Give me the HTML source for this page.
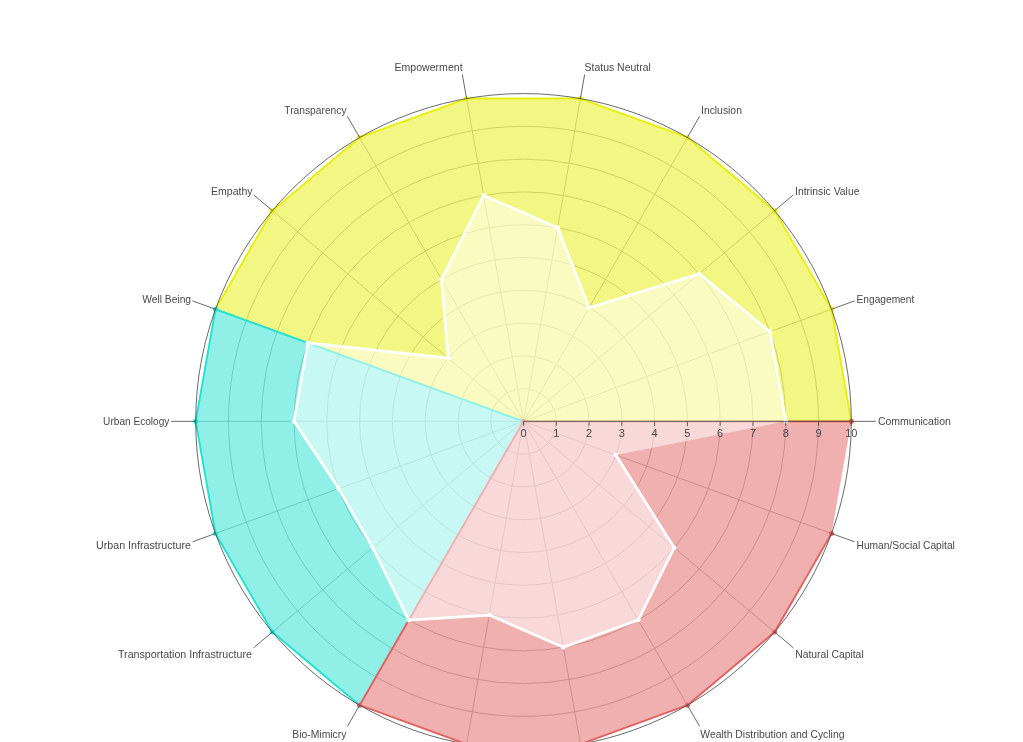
<!DOCTYPE html>
<html><head><meta charset="utf-8"><title>Radar</title>
<style>html,body{margin:0;padding:0;background:#fff;overflow:hidden}svg{display:block}text{font-family:"Liberation Sans","DejaVu Sans",sans-serif;font-size:11px;fill:#484848}</style></head><body>
<svg width="1023" height="742" viewBox="0 0 1023 742">
<rect width="1023" height="742" fill="#fff"/>
<g fill="none" stroke="#b0b0b0" stroke-width="0.9">
<circle cx="523.5" cy="421.35" r="32.78"/>
<circle cx="523.5" cy="421.35" r="65.56"/>
<circle cx="523.5" cy="421.35" r="98.34"/>
<circle cx="523.5" cy="421.35" r="131.12"/>
<circle cx="523.5" cy="421.35" r="163.9"/>
<circle cx="523.5" cy="421.35" r="196.68"/>
<circle cx="523.5" cy="421.35" r="229.46"/>
<circle cx="523.5" cy="421.35" r="262.24"/>
<circle cx="523.5" cy="421.35" r="295.02"/>
<path d="M523.5,421.35L831.53,309.24"/>
<path d="M523.5,421.35L774.61,210.64"/>
<path d="M523.5,421.35L687.4,137.47"/>
<path d="M523.5,421.35L580.42,98.53"/>
<path d="M523.5,421.35L466.58,98.53"/>
<path d="M523.5,421.35L359.6,137.47"/>
<path d="M523.5,421.35L272.39,210.64"/>
<path d="M523.5,421.35L215.47,309.24"/>
<path d="M523.5,421.35L195.7,421.35"/>
<path d="M523.5,421.35L215.47,533.46"/>
<path d="M523.5,421.35L272.39,632.06"/>
<path d="M523.5,421.35L359.6,705.23"/>
<path d="M523.5,421.35L466.58,744.17"/>
<path d="M523.5,421.35L580.42,744.17"/>
<path d="M523.5,421.35L687.4,705.23"/>
<path d="M523.5,421.35L774.61,632.06"/>
<path d="M523.5,421.35L831.53,533.46"/>
</g>
<path d="M523.5,421.35L851.3,421.35L831.53,309.24L774.61,210.64L687.4,137.47L580.42,98.53L466.58,98.53L359.6,137.47L272.39,210.64L215.47,309.24" fill="rgb(230,240,8)" fill-opacity="0.5" stroke="none"/>
<path d="M523.5,421.35L851.3,421.35L831.53,309.24L774.61,210.64L687.4,137.47L580.42,98.53L466.58,98.53L359.6,137.47L272.39,210.64L215.47,309.24" fill="none" stroke="rgb(230,240,8)" stroke-width="1.9" stroke-linejoin="round"/>
<g fill="rgb(230,240,8)">
<circle cx="523.5" cy="421.35" r="2.5"/>
<circle cx="851.3" cy="421.35" r="2.5"/>
<circle cx="831.53" cy="309.24" r="2.5"/>
<circle cx="774.61" cy="210.64" r="2.5"/>
<circle cx="687.4" cy="137.47" r="2.5"/>
<circle cx="580.42" cy="98.53" r="2.5"/>
<circle cx="466.58" cy="98.53" r="2.5"/>
<circle cx="359.6" cy="137.47" r="2.5"/>
<circle cx="272.39" cy="210.64" r="2.5"/>
<circle cx="215.47" cy="309.24" r="2.5"/>
</g>
<path d="M523.5,421.35L215.47,309.24L195.7,421.35L215.47,533.46L272.39,632.06L359.6,705.23" fill="rgb(34,226,208)" fill-opacity="0.5" stroke="none"/>
<path d="M523.5,421.35L215.47,309.24L195.7,421.35L215.47,533.46L272.39,632.06L359.6,705.23" fill="none" stroke="rgb(34,226,208)" stroke-width="1.9" stroke-linejoin="round"/>
<g fill="rgb(34,226,208)">
<circle cx="523.5" cy="421.35" r="2.5"/>
<circle cx="215.47" cy="309.24" r="2.5"/>
<circle cx="195.7" cy="421.35" r="2.5"/>
<circle cx="215.47" cy="533.46" r="2.5"/>
<circle cx="272.39" cy="632.06" r="2.5"/>
<circle cx="359.6" cy="705.23" r="2.5"/>
</g>
<path d="M851.3,421.35L523.5,421.35L359.6,705.23L466.58,744.17L580.42,744.17L687.4,705.23L774.61,632.06L831.53,533.46" fill="rgb(226,98,98)" fill-opacity="0.5" stroke="none"/>
<path d="M851.3,421.35L523.5,421.35L359.6,705.23L466.58,744.17L580.42,744.17L687.4,705.23L774.61,632.06L831.53,533.46" fill="none" stroke="rgb(226,98,98)" stroke-width="1.9" stroke-linejoin="round"/>
<g fill="rgb(226,98,98)">
<circle cx="851.3" cy="421.35" r="2.5"/>
<circle cx="523.5" cy="421.35" r="2.5"/>
<circle cx="359.6" cy="705.23" r="2.5"/>
<circle cx="466.58" cy="744.17" r="2.5"/>
<circle cx="580.42" cy="744.17" r="2.5"/>
<circle cx="687.4" cy="705.23" r="2.5"/>
<circle cx="774.61" cy="632.06" r="2.5"/>
<circle cx="831.53" cy="533.46" r="2.5"/>
</g>
<path d="M785.74,421.35L769.92,331.66L699.28,273.86L589.06,307.8L557.65,227.66L483.65,195.38L441.55,279.41L448.17,358.14L307.88,342.87L294.04,421.35L338.68,488.62L372.83,547.77L408.77,620.07L489.35,615.04L563.35,647.32L638.23,620.07L674.17,547.77L615.91,454.98Z" fill="#fff" fill-opacity="0.5" stroke="none"/>
<path d="M785.74,421.35L769.92,331.66L699.28,273.86L589.06,307.8L557.65,227.66L483.65,195.38L441.55,279.41L448.17,358.14L307.88,342.87L294.04,421.35L338.68,488.62L372.83,547.77L408.77,620.07L489.35,615.04L563.35,647.32L638.23,620.07L674.17,547.77L615.91,454.98" fill="none" stroke="#fff" stroke-width="2.7" stroke-linejoin="round" stroke-linecap="round"/>
<g fill="#fff">
<circle cx="785.74" cy="421.35" r="2.3"/>
<circle cx="769.92" cy="331.66" r="2.3"/>
<circle cx="699.28" cy="273.86" r="2.3"/>
<circle cx="589.06" cy="307.8" r="2.3"/>
<circle cx="557.65" cy="227.66" r="2.3"/>
<circle cx="483.65" cy="195.38" r="2.3"/>
<circle cx="441.55" cy="279.41" r="2.3"/>
<circle cx="448.17" cy="358.14" r="2.3"/>
<circle cx="307.88" cy="342.87" r="2.3"/>
<circle cx="294.04" cy="421.35" r="2.3"/>
<circle cx="338.68" cy="488.62" r="2.3"/>
<circle cx="372.83" cy="547.77" r="2.3"/>
<circle cx="408.77" cy="620.07" r="2.3"/>
<circle cx="489.35" cy="615.04" r="2.3"/>
<circle cx="563.35" cy="647.32" r="2.3"/>
<circle cx="638.23" cy="620.07" r="2.3"/>
<circle cx="674.17" cy="547.77" r="2.3"/>
<circle cx="615.91" cy="454.98" r="2.3"/>
</g>
<circle cx="523.5" cy="421.35" r="327.8" fill="none" stroke="#444" stroke-width="0.8"/>
<path d="M523.5,421.35H851.3" stroke="#444" stroke-width="0.8" fill="none"/>
<g stroke="#444" stroke-width="0.8">
<path d="M523.5,421.35v4.6"/>
<path d="M556.28,421.35v4.6"/>
<path d="M589.06,421.35v4.6"/>
<path d="M621.84,421.35v4.6"/>
<path d="M654.62,421.35v4.6"/>
<path d="M687.4,421.35v4.6"/>
<path d="M720.18,421.35v4.6"/>
<path d="M752.96,421.35v4.6"/>
<path d="M785.74,421.35v4.6"/>
<path d="M818.52,421.35v4.6"/>
<path d="M851.3,421.35v4.6"/>
</g>
<g text-anchor="middle" style="font-size:9.8px">
<text x="523.5" y="437.2">0</text>
<text x="556.28" y="437.2">1</text>
<text x="589.06" y="437.2">2</text>
<text x="621.84" y="437.2">3</text>
<text x="654.62" y="437.2">4</text>
<text x="687.4" y="437.2">5</text>
<text x="720.18" y="437.2">6</text>
<text x="752.96" y="437.2">7</text>
<text x="785.74" y="437.2">8</text>
<text x="818.52" y="437.2">9</text>
<text x="851.3" y="437.2">10</text>
</g>
<g stroke="#444" stroke-width="0.8">
<path d="M851.3,421.35L875.8,421.35"/>
<path d="M831.53,309.24L854.55,300.86"/>
<path d="M774.61,210.64L793.38,194.9"/>
<path d="M687.4,137.47L699.65,116.25"/>
<path d="M580.42,98.53L584.68,74.4"/>
<path d="M466.58,98.53L462.32,74.4"/>
<path d="M359.6,137.47L347.35,116.25"/>
<path d="M272.39,210.64L253.62,194.9"/>
<path d="M215.47,309.24L192.45,300.86"/>
<path d="M195.7,421.35L171.2,421.35"/>
<path d="M215.47,533.46L192.45,541.84"/>
<path d="M272.39,632.06L253.62,647.8"/>
<path d="M359.6,705.23L347.35,726.45"/>
<path d="M466.58,744.17L462.32,768.3"/>
<path d="M580.42,744.17L584.68,768.3"/>
<path d="M687.4,705.23L699.65,726.45"/>
<path d="M774.61,632.06L793.38,647.8"/>
<path d="M831.53,533.46L854.55,541.84"/>
</g>
<text x="877.9" y="424.9" textLength="73" lengthAdjust="spacingAndGlyphs">Communication</text>
<text x="856.5" y="302.9" textLength="57.8" lengthAdjust="spacingAndGlyphs">Engagement</text>
<text x="795" y="194.8" textLength="64.5" lengthAdjust="spacingAndGlyphs">Intrinsic Value</text>
<text x="701" y="113.9" textLength="40.9" lengthAdjust="spacingAndGlyphs">Inclusion</text>
<text x="584.6" y="70.7" textLength="66.2" lengthAdjust="spacingAndGlyphs">Status Neutral</text>
<text x="394.5" y="70.7" textLength="68.1" lengthAdjust="spacingAndGlyphs">Empowerment</text>
<text x="284.3" y="113.9" textLength="62.2" lengthAdjust="spacingAndGlyphs">Transparency</text>
<text x="211.1" y="194.8" textLength="41.5" lengthAdjust="spacingAndGlyphs">Empathy</text>
<text x="142.2" y="302.9" textLength="48.9" lengthAdjust="spacingAndGlyphs">Well Being</text>
<text x="103.1" y="424.9" textLength="66.3" lengthAdjust="spacingAndGlyphs">Urban Ecology</text>
<text x="96" y="548.5" textLength="94.9" lengthAdjust="spacingAndGlyphs">Urban Infrastructure</text>
<text x="118" y="657.7" textLength="133.9" lengthAdjust="spacingAndGlyphs">Transportation Infrastructure</text>
<text x="292.3" y="738" textLength="54.1" lengthAdjust="spacingAndGlyphs">Bio-Mimicry</text>
<text x="700.3" y="738" textLength="144.2" lengthAdjust="spacingAndGlyphs">Wealth Distribution and Cycling</text>
<text x="795.2" y="657.7" textLength="68.5" lengthAdjust="spacingAndGlyphs">Natural Capital</text>
<text x="856.5" y="548.5" textLength="98.4" lengthAdjust="spacingAndGlyphs">Human/Social Capital</text>
</svg></body></html>
